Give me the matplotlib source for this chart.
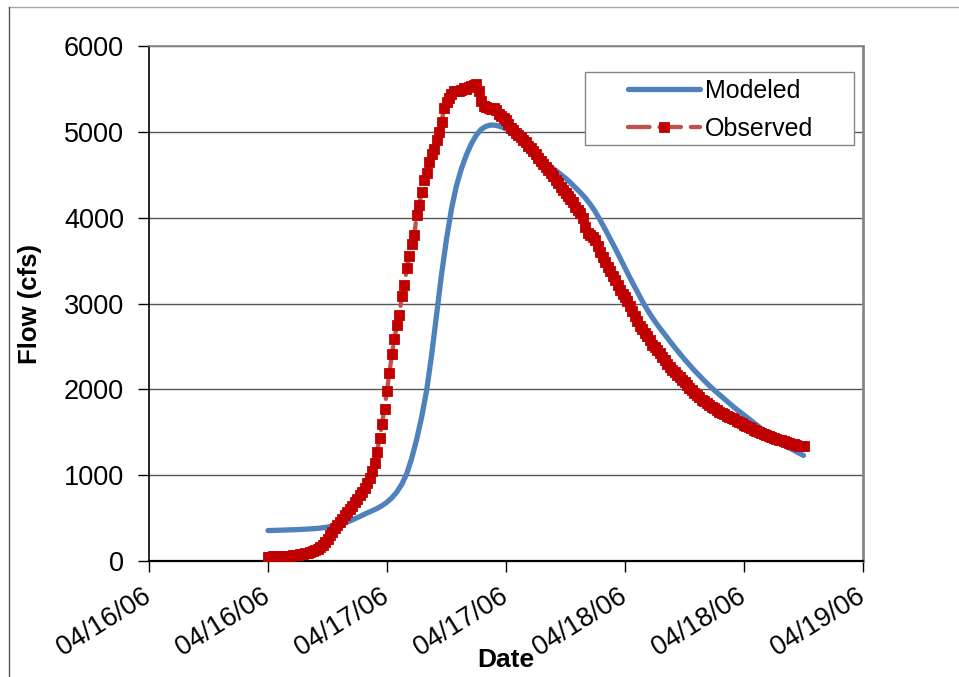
import numpy as np
import pandas as pd
import matplotlib
matplotlib.use("Agg")
import matplotlib.pyplot as plt
import matplotlib.dates as mdates
from matplotlib.lines import Line2D
from matplotlib.patches import Rectangle

plt.rcParams['font.family'] = ['Liberation Sans', 'DejaVu Sans']

#------------------datos---------------------#
obs_start   =   "2006-04-16 12:00"
mod_start   =   "2006-04-16 12:00"

# observed flow, every 15 minutes (cfs)
observed = [
    50, 52, 54, 55,   56, 57, 58, 60,   62, 64, 66, 70,   73, 77, 82, 88,
    95, 103, 112, 125,   140, 160, 185, 220,   260, 300, 340, 380,
    420, 460, 495, 535,   570, 610, 645, 685,   725, 765, 800, 850,
    905, 965, 1045, 1140,   1275, 1430, 1600, 1775,   1985, 2190, 2410, 2590,
    2750, 2870, 3090, 3215,   3415, 3555, 3695, 3800,   4030, 4150, 4300, 4440,
    4520, 4650, 4740, 4800,   4900, 5000, 5110, 5280,   5350, 5400, 5440, 5470,
    5480, 5470, 5490, 5510,   5500, 5520, 5530, 5550,   5560, 5480, 5360, 5300,
    5290, 5280, 5270, 5280,   5250, 5210, 5180, 5160,   5140, 5090, 5050, 5020,
    4990, 4965, 4940, 4910,   4880, 4840, 4810, 4780,   4740, 4700, 4660, 4620,
    4590, 4550, 4520, 4480,   4440, 4400, 4360, 4320,   4290, 4250, 4220, 4180,
    4130, 4090, 4050, 4000,   3890, 3820, 3800, 3780,   3740, 3670, 3600, 3540,
    3480, 3430, 3380, 3320,   3270, 3210, 3160, 3110,   3070, 3030, 2970, 2910,
    2860, 2800, 2740, 2700,   2660, 2620, 2570, 2520,   2490, 2460, 2420, 2380,
    2340, 2300, 2260, 2230,   2200, 2170, 2140, 2110,   2080, 2050, 2020, 1990,
    1960, 1930, 1905, 1880,   1860, 1840, 1820, 1800,   1780, 1760, 1740, 1725,
    1710, 1695, 1680, 1665,   1650, 1635, 1620, 1605,   1590, 1575, 1560, 1545,
    1530, 1515, 1500, 1490,   1480, 1465, 1455, 1445,   1435, 1425, 1415, 1405,
    1395, 1385, 1375, 1365,   1360, 1352, 1345, 1340,   1335,
]

# modeled flow, every 30 minutes (cfs)
modeled = [
    355, 356, 358, 360, 362, 364, 366, 369, 372, 376, 380, 387,
    395, 406, 420, 436, 455, 478, 505, 532, 560, 585, 612, 645,
    685, 738, 805, 895, 1020, 1200, 1420, 1680, 1990, 2400, 2870, 3340,
    3750, 4100, 4370, 4570, 4730, 4860, 4960, 5030, 5065, 5080, 5075, 5060,
    5035, 4995, 4945, 4890, 4835, 4785, 4735, 4688, 4640, 4595, 4550, 4505,
    4460, 4408, 4350, 4292, 4230, 4155, 4070, 3970, 3865, 3755, 3645, 3530,
    3415, 3300, 3190, 3080, 2975, 2880, 2795, 2715, 2640, 2565, 2490, 2420,
    2350, 2285, 2220, 2160, 2100, 2045, 1990, 1940, 1890, 1840, 1790, 1745,
    1700, 1655, 1610, 1565, 1520, 1475, 1430, 1392, 1355, 1322, 1290, 1260,
    1230,
]

x_obs   =   pd.date_range(obs_start, periods=len(observed), freq="15min")
x_mod   =   pd.date_range(mod_start, periods=len(modeled), freq="30min")

y_ticks =   [0, 1000, 2000, 3000, 4000, 5000, 6000]

#---------creando_la_grafica-----------#
fig = plt.figure(figsize=(9.59, 6.77), dpi=100, facecolor="white")
ax  = fig.add_axes([149/959, 1-561/677, 714/959, 515/677])

ax.plot(x_mod, modeled, color="#4F81BD", lw=3.8, solid_capstyle="round",
        solid_joinstyle="round", label="Modeled", zorder=3)
ax.plot(x_obs, observed, color="#C0504D", lw=3.1, dashes=(5, 2.3),
        dash_capstyle="round", marker="s", ms=7.4, mew=0.6, mfc="#C00000",
        mec="#C00000", label="Observed", zorder=4)

ax.set_xlim(pd.Timestamp("2006-04-16"), pd.Timestamp("2006-04-19"))
ax.set_ylim(0, 6000)
ax.set_yticks(y_ticks)
ax.yaxis.grid(True, color="#555555", lw=1.0)
ax.set_axisbelow(True)

ax.xaxis.set_major_locator(mdates.HourLocator(byhour=[0, 12]))
ax.xaxis.set_major_formatter(mdates.DateFormatter("%m/%d/%y"))

ax.tick_params(axis="y", direction="out", length=8, width=1, pad=10, labelsize=19.5)
ax.tick_params(axis="x", direction="out", length=8, width=1, pad=16, labelsize=19.5)
for lab in ax.get_xticklabels():
    lab.set_rotation(32)
    lab.set_ha("right")
    lab.set_va("center")
    lab.set_rotation_mode("anchor")

ax.spines["left"].set_color("black")
ax.spines["left"].set_linewidth(1.2)
ax.spines["bottom"].set_color("black")
ax.spines["bottom"].set_linewidth(1.6)
ax.spines["top"].set_color("#868686")
ax.spines["top"].set_linewidth(1.2)
ax.spines["right"].set_color("#868686")
ax.spines["right"].set_linewidth(2.0)

ax.set_xlabel("Date", fontsize=19, fontweight="bold")
ax.set_ylabel("Flow (cfs)", fontsize=18.5, fontweight="bold")
ax.xaxis.set_label_coords(0.5, (561-660)/515)
ax.xaxis.label.set_va("center")
ax.yaxis.set_label_coords((30-149)/714, 0.5)
ax.yaxis.label.set_va("center")

#---------leyenda-----------#
caja = Rectangle(((585-149)/714, (561-145)/515), 269/714, 73/515,
                 transform=ax.transAxes, facecolor="white", edgecolor="#868686",
                 lw=1.0, zorder=4.9)
ax.add_patch(caja)
legend = ax.legend(loc="upper left", bbox_to_anchor=((628-149)/714, (561-79)/515),
                   fontsize=18, handlelength=2.88, handletextpad=0.2,
                   labelspacing=0.55, borderpad=0, numpoints=1,
                   frameon=False, borderaxespad=0)
legend.set_zorder(6)

# borde exterior del grafico
fig.add_artist(Line2D([8.5/959, 1], [1-6.5/677, 1-6.5/677], color="#a6a6a6", lw=1))
fig.add_artist(Line2D([8.5/959, 8.5/959], [0, 1-6.5/677], color="#555555", lw=1))

plt.savefig("out.png", dpi=100)
